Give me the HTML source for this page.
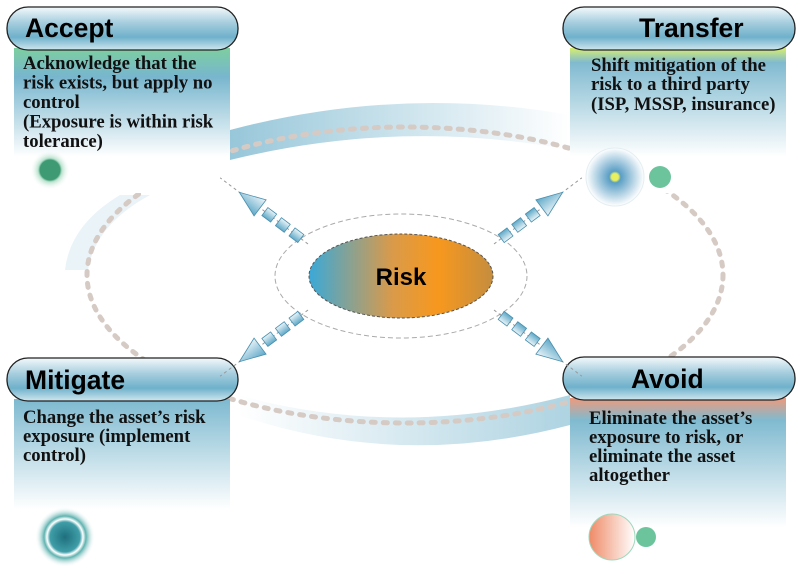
<!DOCTYPE html>
<html><head><meta charset="utf-8"><style>
html,body{margin:0;padding:0;background:#fff;}
svg{display:block}
.h{font-family:"Liberation Sans",sans-serif;font-weight:bold;font-size:26.5px;fill:#000}
.b{font-family:"Liberation Serif",serif;font-weight:bold;font-size:18.7px;fill:#111}
</style></head><body>
<svg width="800" height="583" viewBox="0 0 800 583" xmlns="http://www.w3.org/2000/svg">
<defs>
<linearGradient id="pill" x1="0" y1="0" x2="0" y2="1">
<stop offset="0" stop-color="#f4f9fb"/><stop offset="0.35" stop-color="#a9cfdf"/><stop offset="0.7" stop-color="#6fb1cb"/><stop offset="1" stop-color="#cfe6ee"/></linearGradient>
<linearGradient id="bg" x1="0" y1="0" x2="0" y2="1"><stop offset="0" stop-color="#7ccf9f"/><stop offset="0.2" stop-color="#78b6ce"/><stop offset="0.75" stop-color="#fff"/><stop offset="1" stop-color="#fff"/></linearGradient>
<linearGradient id="by" x1="0" y1="0" x2="0" y2="1"><stop offset="0" stop-color="#d8ee70"/><stop offset="0.1" stop-color="#80bad0"/><stop offset="0.75" stop-color="#fff"/><stop offset="1" stop-color="#fff"/></linearGradient>
<linearGradient id="bm" x1="0" y1="0" x2="0" y2="1"><stop offset="0" stop-color="#7db9d0"/><stop offset="0.6" stop-color="#fff"/><stop offset="1" stop-color="#fff"/></linearGradient>
<linearGradient id="bs" x1="0" y1="0" x2="0" y2="1"><stop offset="0" stop-color="#ee9a7c"/><stop offset="0.12" stop-color="#80bad0"/><stop offset="0.7" stop-color="#fff"/><stop offset="1" stop-color="#fff"/></linearGradient>
<linearGradient id="risk" x1="0" y1="0" x2="1" y2="0"><stop offset="0" stop-color="#3aa9d8"/><stop offset="0.45" stop-color="#d99a4a"/><stop offset="0.7" stop-color="#f7981e"/><stop offset="1" stop-color="#c58d3e"/></linearGradient>
<linearGradient id="bandR" x1="1" y1="0" x2="0" y2="0"><stop offset="0" stop-color="#6fb1cb" stop-opacity=".8"/><stop offset="1" stop-color="#6fb1cb" stop-opacity="0"/></linearGradient>
<linearGradient id="bandL" x1="0" y1="0" x2="1" y2="0"><stop offset="0" stop-color="#6fb1cb" stop-opacity=".8"/><stop offset="1" stop-color="#6fb1cb" stop-opacity="0"/></linearGradient>
<linearGradient id="arr" x1="0" y1="0" x2="0" y2="1"><stop offset="0" stop-color="#eaf4f8"/><stop offset="1" stop-color="#5fa9c8"/></linearGradient>
<radialGradient id="gdot"><stop offset="0.5" stop-color="#3d9a72"/><stop offset="0.6" stop-color="#8fd0b0" stop-opacity=".6"/><stop offset="1" stop-color="#fff" stop-opacity="0"/></radialGradient>
<radialGradient id="bdot"><stop offset="0" stop-color="#e8f060"/><stop offset="0.12" stop-color="#e8f060"/><stop offset="0.2" stop-color="#5a9ec4"/><stop offset="1" stop-color="#fff"/></radialGradient>
<radialGradient id="tdot"><stop offset="0" stop-color="#1f6f7e"/><stop offset="0.5" stop-color="#3f9ea8"/><stop offset="0.6" stop-color="#fff"/><stop offset="0.7" stop-color="#5fb3b0"/><stop offset="1" stop-color="#fff" stop-opacity="0"/></radialGradient>
<linearGradient id="sdot" x1="0" y1="0" x2="1" y2="0"><stop offset="0" stop-color="#ef8a66"/><stop offset="1" stop-color="#fff"/></linearGradient>
</defs>

<!-- bands -->
<path d="M230 130 Q400 85 570 115 L570 150 Q400 118 230 160 Z" fill="url(#bandL)" opacity=".9"/>
<path d="M238 395 Q400 440 570 395 L570 425 Q400 470 238 415 Z" fill="url(#bandR)" opacity=".7"/>
<path d="M150 195 Q95 225 88 270 L65 270 Q70 225 120 195 Z" fill="#6fb1cb" opacity=".15"/>

<!-- big dotted ring -->
<ellipse cx="405" cy="275" rx="318" ry="148" fill="none" stroke="#d6cac4" stroke-width="5" stroke-linecap="round" stroke-dasharray="4 8"/>

<!-- bodies -->
<rect x="14" y="48" width="216" height="145" fill="url(#bg)"/>
<rect x="570" y="48" width="216" height="145" fill="url(#by)"/>
<rect x="14" y="399" width="216" height="184" fill="url(#bm)"/>
<rect x="570" y="398" width="216" height="185" fill="url(#bs)"/>

<!-- pills -->
<rect x="7" y="7" width="231" height="43" rx="21" fill="url(#pill)" stroke="#222" stroke-width="1.3"/>
<rect x="563" y="7" width="232" height="43" rx="21" fill="url(#pill)" stroke="#222" stroke-width="1.3"/>
<rect x="7" y="358" width="231" height="43" rx="21" fill="url(#pill)" stroke="#222" stroke-width="1.3"/>
<rect x="563" y="357" width="232" height="43" rx="21" fill="url(#pill)" stroke="#222" stroke-width="1.3"/>
<text class="h" x="25" y="37">Accept</text>
<text class="h" x="639" y="37">Transfer</text>
<text class="h" x="25" y="389">Mitigate</text>
<text class="h" x="631" y="388">Avoid</text>

<text class="b"><tspan x="23" y="69">Acknowledge that the</tspan><tspan x="23" y="88.5">risk exists, but apply no</tspan><tspan x="23" y="108">control</tspan><tspan x="23" y="127.5">(Exposure is within risk</tspan><tspan x="23" y="147">tolerance)</tspan></text>
<text class="b"><tspan x="591" y="71">Shift mitigation of the</tspan><tspan x="591" y="90">risk to a third party</tspan><tspan x="591" y="110">(ISP, MSSP, insurance)</tspan></text>
<text class="b"><tspan x="23" y="423">Change the asset’s risk</tspan><tspan x="23" y="442">exposure (implement</tspan><tspan x="23" y="461">control)</tspan></text>
<text class="b"><tspan x="589" y="424">Eliminate the asset’s</tspan><tspan x="589" y="443">exposure to risk, or</tspan><tspan x="589" y="462">eliminate the asset</tspan><tspan x="589" y="481">altogether</tspan></text>

<!-- dots -->
<circle cx="50" cy="170" r="20" fill="url(#gdot)"/>
<circle cx="615" cy="177" r="29" fill="url(#bdot)" stroke="#e4eef2"/>
<circle cx="660" cy="177" r="11" fill="#6cc49d"/>
<circle cx="65" cy="537" r="30" fill="url(#tdot)"/>
<circle cx="612" cy="537" r="23" fill="url(#sdot)" stroke="#9fd8bd"/>
<circle cx="646" cy="537" r="10" fill="#6cc49d"/>

<!-- center -->
<ellipse cx="401" cy="276" rx="126" ry="62" fill="none" stroke="#aaa" stroke-width="1" stroke-dasharray="5 3"/>
<ellipse cx="401" cy="276" rx="92" ry="42" fill="url(#risk)" stroke="#555" stroke-width="1" stroke-dasharray="3 2"/>
<text class="h" x="401" y="285" text-anchor="middle" style="font-size:24px">Risk</text>

<!-- arrows -->
<g id="ar">
<line x1="0" y1="0" x2="-110" y2="0" stroke="#999" stroke-dasharray="3 3"/>
<rect x="-20" y="-5" width="11" height="10" fill="url(#arr)" stroke="#4a8fae" stroke-width=".8"/>
<rect x="-37" y="-5" width="11" height="10" fill="url(#arr)" stroke="#4a8fae" stroke-width=".8"/>
<rect x="-54" y="-5" width="11" height="10" fill="url(#arr)" stroke="#4a8fae" stroke-width=".8"/>
<path d="M-60 -10 L-60 10 L-86 0 Z" fill="url(#arr)" stroke="#4a8fae" stroke-width=".8"/>
</g>
<use href="#ar" transform="translate(308,244) rotate(37)"/>
<use href="#ar" transform="translate(494,244) rotate(143)"/>
<use href="#ar" transform="translate(308,310) rotate(-37)"/>
<use href="#ar" transform="translate(494,310) rotate(-143)"/>
</svg>
</body></html>
